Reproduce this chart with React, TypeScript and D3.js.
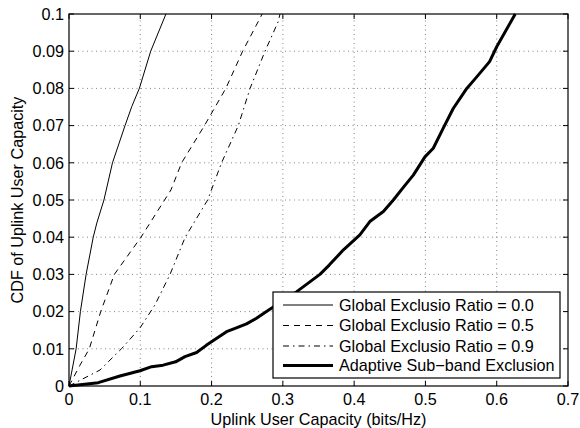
import React from "react";
import * as d3 from "d3";

const xTicks = [0, 0.1, 0.2, 0.3, 0.4, 0.5, 0.6, 0.7];
const yTicks = [0, 0.01, 0.02, 0.03, 0.04, 0.05, 0.06, 0.07, 0.08, 0.09, 0.1];

const ratio00X = [0, 0.01, 0.016, 0.024, 0.034, 0.039, 0.049, 0.061, 0.0786, 0.088, 0.0987, 0.1146, 0.136];
const ratio00Y = [0, 0.01, 0.02, 0.03, 0.04, 0.0438, 0.05, 0.06, 0.07, 0.0751, 0.08, 0.09, 0.1];

const ratio05X = [0, 0.0154, 0.0285, 0.0445, 0.0636, 0.101, 0.143, 0.158, 0.19, 0.22, 0.2436, 0.271];
const ratio05Y = [0, 0.0056, 0.01, 0.02, 0.03, 0.04, 0.0527, 0.06, 0.07, 0.08, 0.09, 0.1];

const ratio09X = [0, 0.0435, 0.074, 0.0996, 0.1206, 0.1417, 0.163, 0.1945, 0.214, 0.2375, 0.254, 0.275, 0.2936, 0.296];
const ratio09Y = [0, 0.0043, 0.0101, 0.0156, 0.0218, 0.03, 0.04, 0.05, 0.06, 0.07, 0.08, 0.09, 0.098, 0.1];

const adaptiveX = [0, 0.041, 0.0715, 0.0996, 0.116, 0.132, 0.1496, 0.1627, 0.179, 0.193, 0.221, 0.233, 0.249, 0.263, 0.277, 0.319, 0.352, 0.365, 0.385, 0.408, 0.422, 0.441, 0.455, 0.469, 0.483, 0.4993, 0.511, 0.525, 0.539, 0.558, 0.572, 0.59, 0.6, 0.626];
const adaptiveY = [0, 0.0009, 0.0027, 0.0041, 0.0052, 0.0056, 0.0065, 0.0079, 0.009, 0.011, 0.0146, 0.0155, 0.0167, 0.0182, 0.02, 0.0253, 0.03, 0.0325, 0.0366, 0.0406, 0.0442, 0.0469, 0.05, 0.0534, 0.0567, 0.0616, 0.0639, 0.0693, 0.0746, 0.08, 0.0831, 0.0872, 0.0912, 0.1];

const seriesNames = [
  "Global Exclusio Ratio = 0.0",
  "Global Exclusio Ratio = 0.5",
  "Global Exclusio Ratio = 0.9",
  "Adaptive Sub\u2212band Exclusion",
];

const W = 580, H = 428;
const L = 69, R = 568, T = 14, B = 386;
const FONT = "'Liberation Sans', Arial, Helvetica, sans-serif";
const FS = 16.2;

export default function App() {
  const x = d3.scaleLinear().domain([0, 0.7]).range([L, R]);
  const y = d3.scaleLinear().domain([0, 0.1]).range([B, T]);
  const line = d3.line<[number, number]>().x(d => x(d[0])).y(d => y(d[1]));
  const zip = (a: number[], b: number[]) => a.map((v, i) => [v, b[i]] as [number, number]);

  const series = [
    { xs: ratio00X, ys: ratio00Y, w: 1, dash: undefined as string | undefined },
    { xs: ratio05X, ys: ratio05Y, w: 1, dash: "6,5" },
    { xs: ratio09X, ys: ratio09Y, w: 1, dash: "6,4,1.5,4" },
    { xs: adaptiveX, ys: adaptiveY, w: 3, dash: undefined },
  ];

  const legX = 273, legY = 292, legW = 287, legH = 86;
  const rowY = [305, 325.5, 346, 365.5];

  return (
    <svg width={W} height={H} style={{ position: "absolute", left: 0, top: 0, background: "#fff" }} fontFamily={FONT}>
      <rect x={0} y={0} width={W} height={H} fill="#fff" />
      {/* grid */}
      <g stroke="#000" strokeWidth={0.6} strokeDasharray="1,3.5" opacity={0.8}>
        {xTicks.slice(1, -1).map(t => (
          <line key={"gx" + t} x1={x(t)} x2={x(t)} y1={B} y2={T} />
        ))}
        {yTicks.slice(1, -1).map(t => (
          <line key={"gy" + t} x1={L} x2={R} y1={y(t)} y2={y(t)} />
        ))}
      </g>
      {/* curves */}
      <g fill="none" stroke="#000">
        {series.map((s, i) => (
          <path key={i} d={line(zip(s.xs, s.ys)) || ""} strokeWidth={s.w} strokeDasharray={s.dash} strokeLinejoin="round" />
        ))}
      </g>
      {/* ticks */}
      <g stroke="#000" strokeWidth={1}>
        {xTicks.map(t => (
          <g key={"tx" + t}>
            <line x1={x(t)} x2={x(t)} y1={B} y2={B - 5} />
            <line x1={x(t)} x2={x(t)} y1={T} y2={T + 5} />
          </g>
        ))}
        {yTicks.map(t => (
          <g key={"ty" + t}>
            <line x1={L} x2={L + 5} y1={y(t)} y2={y(t)} />
            <line x1={R} x2={R - 5} y1={y(t)} y2={y(t)} />
          </g>
        ))}
      </g>
      <rect x={L} y={T} width={R - L} height={B - T} fill="none" stroke="#000" strokeWidth={1.2} />
      {/* tick labels */}
      <g fontSize={FS} fill="#000">
        {xTicks.map(t => (
          <text key={"lx" + t} x={x(t)} y={405} textAnchor="middle">{String(t)}</text>
        ))}
        {yTicks.map(t => (
          <text key={"ly" + t} x={L - 5} y={y(t) + 5.8} textAnchor="end">{String(t)}</text>
        ))}
      </g>
      <text x={(L + R) / 2} y={425} textAnchor="middle" fontSize={FS}>Uplink User Capacity (bits/Hz)</text>
      <text transform={`translate(23,${(T + B) / 2}) rotate(-90)`} textAnchor="middle" fontSize={FS}>CDF of Uplink User Capacity</text>
      {/* legend */}
      <rect x={legX} y={legY} width={legW} height={legH} fill="#fff" stroke="#000" strokeWidth={1.2} />
      {series.map((s, i) => (
        <g key={"lg" + i}>
          <line x1={283} x2={333} y1={rowY[i]} y2={rowY[i]} stroke="#000" strokeWidth={s.w} strokeDasharray={s.dash} />
          <text x={339} y={rowY[i] + 5.8} fontSize={FS}>{seriesNames[i]}</text>
        </g>
      ))}
    </svg>
  );
}
